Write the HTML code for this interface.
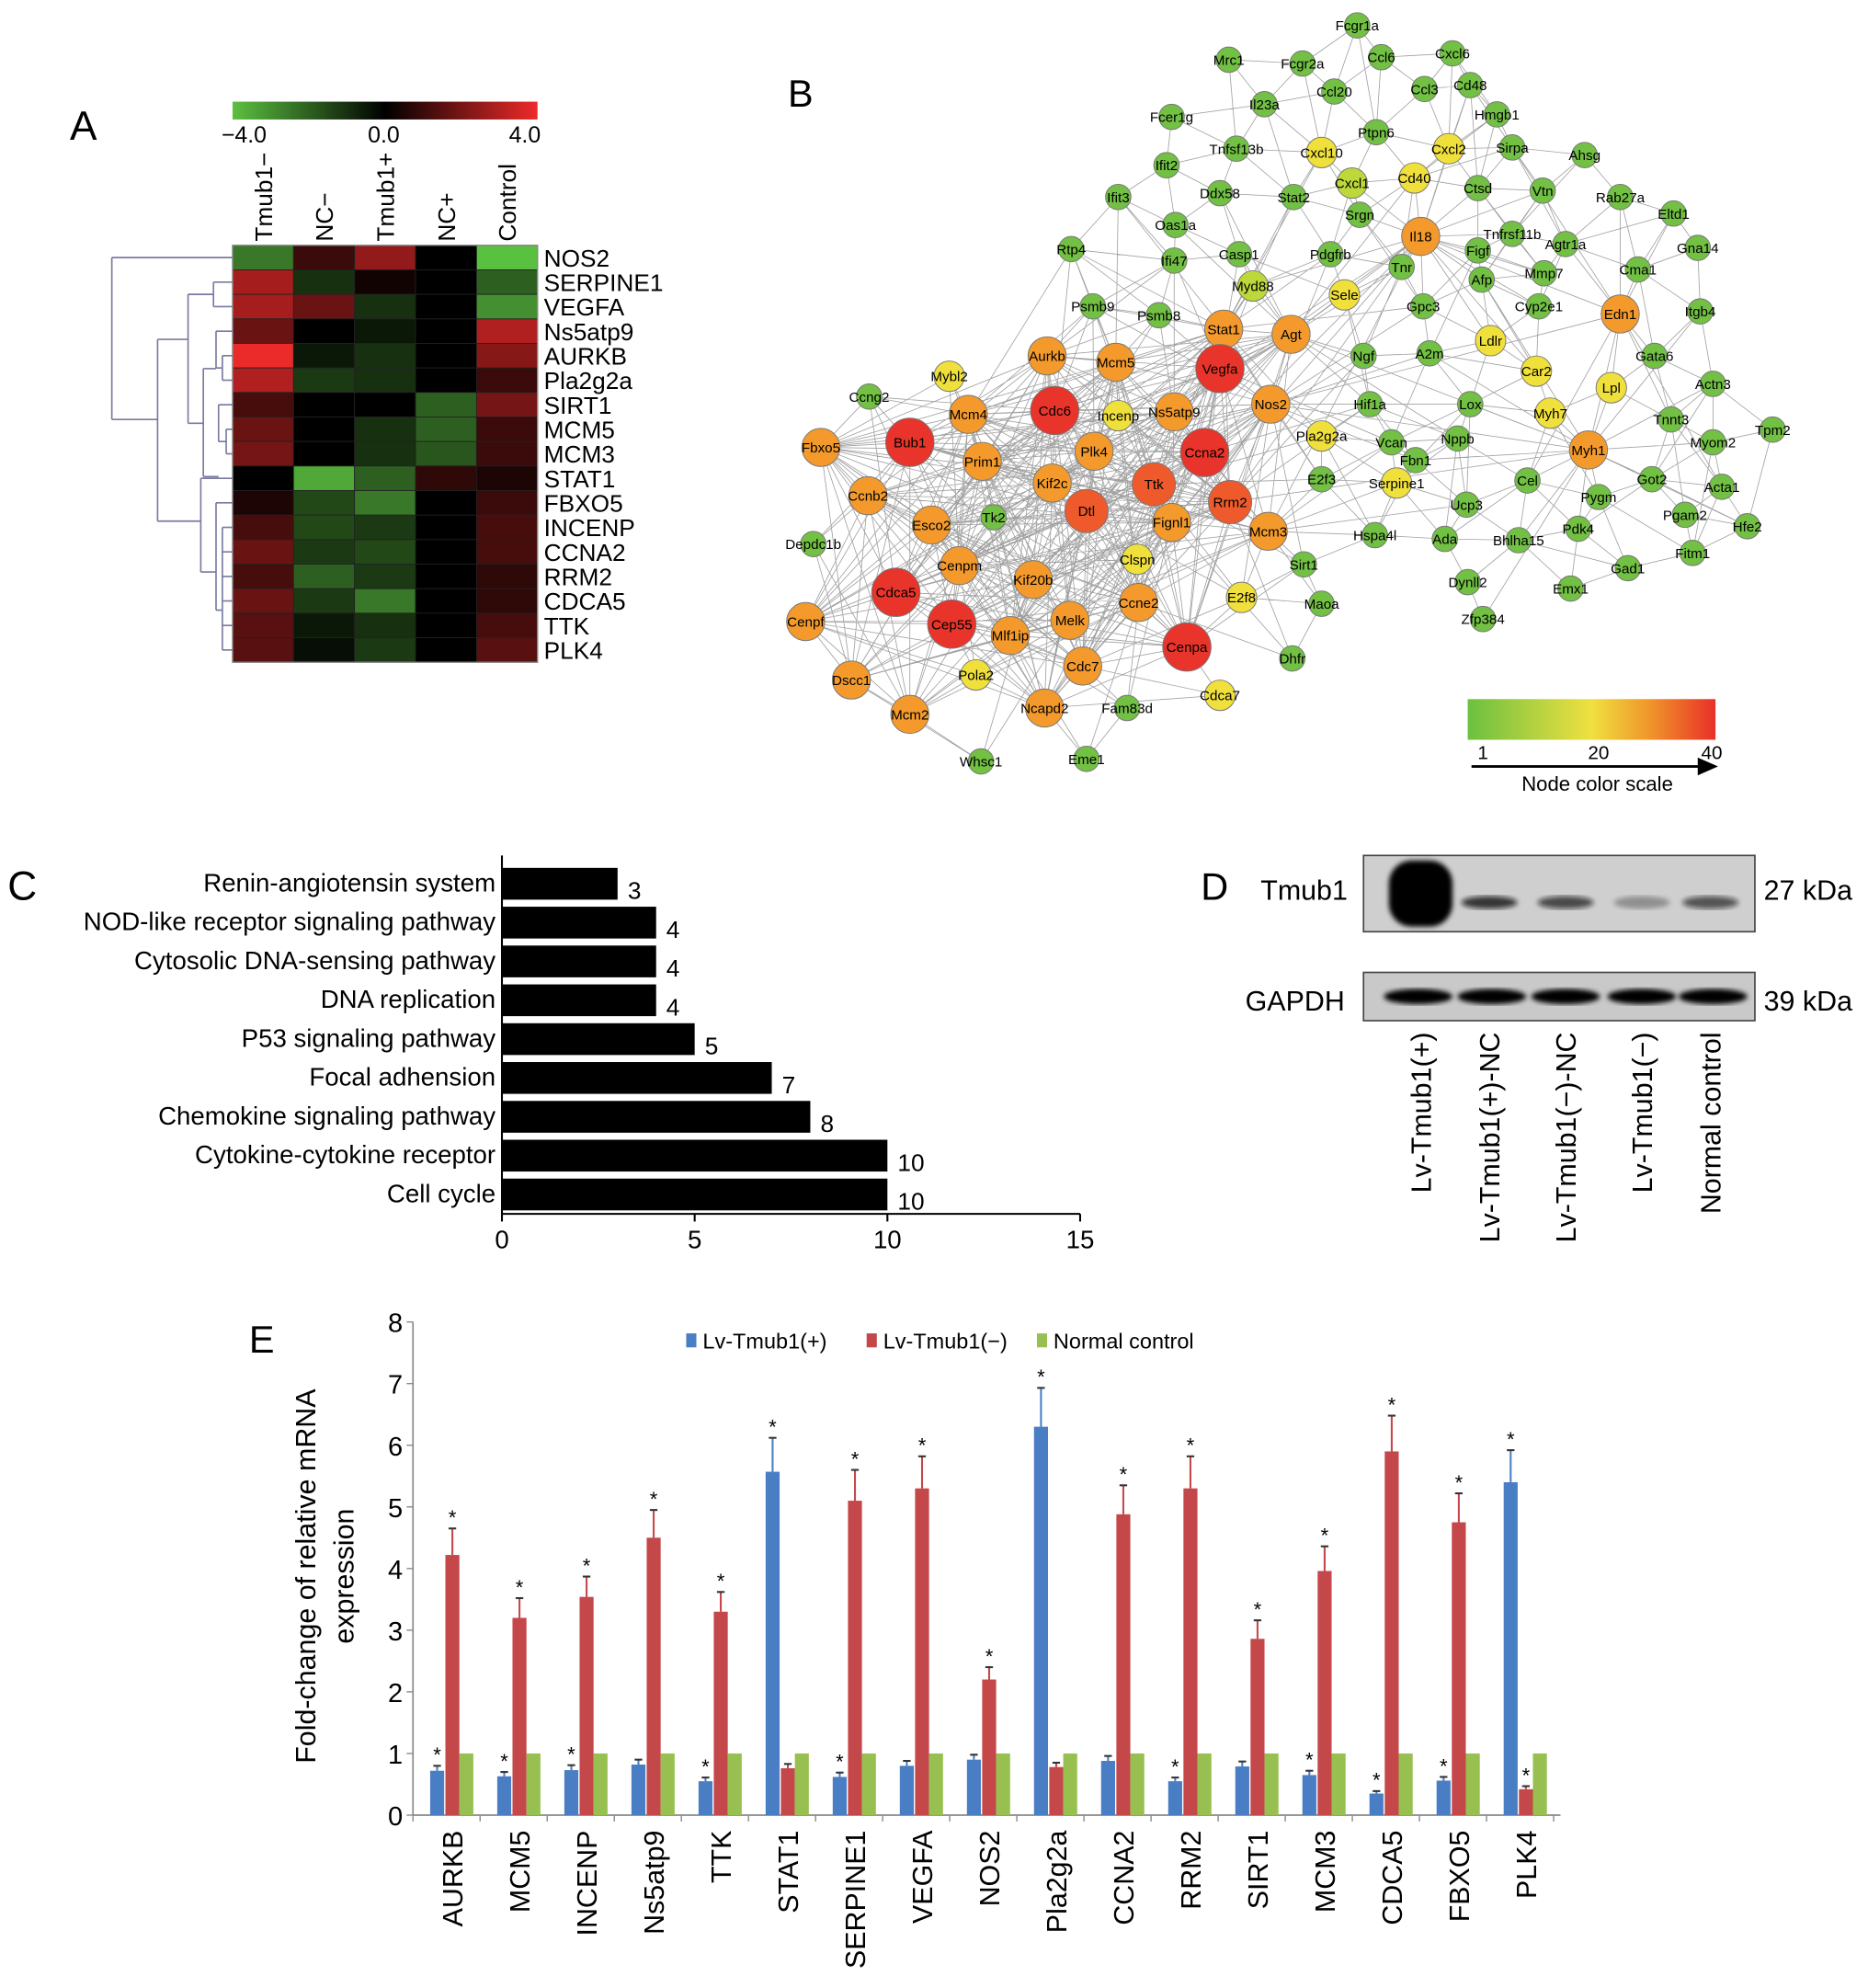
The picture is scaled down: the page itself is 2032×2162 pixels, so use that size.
<!DOCTYPE html>
<html><head><meta charset="utf-8"><style>
html,body{margin:0;padding:0;background:#fff;}
svg{display:block;font-family:"Liberation Sans",sans-serif;}
.n{font-family:"Liberation Sans Narrow","Liberation Sans",sans-serif;}
</style></head><body>
<svg id="fig" width="2032" height="2162" viewBox="0 0 1470 1564" preserveAspectRatio="none" xmlns="http://www.w3.org/2000/svg">
<defs>
<linearGradient id="hmscale" x1="0" x2="1" y1="0" y2="0"><stop offset="0" stop-color="#5cc040"/><stop offset="0.5" stop-color="#000"/><stop offset="1" stop-color="#ee2a2a"/></linearGradient>
<linearGradient id="nodescale" x1="0" x2="1" y1="0" y2="0"><stop offset="0" stop-color="#6cc040"/><stop offset="0.5" stop-color="#f0e040"/><stop offset="0.75" stop-color="#f0902a"/><stop offset="1" stop-color="#e83028"/></linearGradient>
<filter id="blur"><feGaussianBlur stdDeviation="2"/></filter>
</defs>
<g id="pA"></g>
<g id="pB"></g>
<g id="pC"></g>
<g id="pD"></g>
<g id="pE"></g>
</svg>
<script>
// ---------- Panel A data ----------
const hmGenes = ["NOS2","SERPINE1","VEGFA","Ns5atp9","AURKB","Pla2g2a","SIRT1","MCM5","MCM3","STAT1","FBXO5","INCENP","CCNA2","RRM2","CDCA5","TTK","PLK4"];
const hmCols = ["Tmub1−","NC−","Tmub1+","NC+","Control"];
const hmVals = [
[-2.5,1,2.5,0,-4],[2.8,-1,0.3,0,-2],[2.8,1.8,-1,0,-3],[1.8,0,-0.5,0,3],[4,-0.5,-1,0,2.3],
[3,-1.2,-1,0,1],[1.2,0,0,-2,2],[1.8,0,-1,-2,1],[2,0,-1,-1.8,1],[0,-3.5,-2,0.8,0.5],
[0.5,-1.5,-2.5,0,1],[1.2,-1.5,-1.2,0,1.2],[1.8,-1.2,-1.5,0,1.2],[1.2,-2,-1.2,0,0.8],
[1.8,-1.2,-2.5,0,0.8],[1.5,-0.5,-1,0,1.2],[1.5,-0.3,-1.2,0,1.5]];
// ---------- Panel C data ----------
const cCats = ["Renin-angiotensin system","NOD-like receptor signaling pathway","Cytosolic DNA-sensing pathway","DNA replication","P53 signaling pathway","Focal adhension","Chemokine signaling pathway","Cytokine-cytokine receptor","Cell cycle"];
const cVals = [3,4,4,4,5,7,8,10,10];
const cTicks = [0,5,10,15];
// ---------- Panel E data ----------
const eCats = ["AURKB","MCM5","INCENP","Ns5atp9","TTK","STAT1","SERPINE1","VEGFA","NOS2","Pla2g2a","CCNA2","RRM2","SIRT1","MCM3","CDCA5","FBXO5","PLK4"];
const eBlue = [0.72,0.63,0.73,0.82,0.55,5.57,0.62,0.8,0.9,6.3,0.88,0.55,0.79,0.65,0.35,0.56,5.4];
const eBlueErr = [0.08,0.07,0.08,0.08,0.06,0.55,0.07,0.08,0.08,0.63,0.08,0.06,0.08,0.07,0.04,0.06,0.52];
const eRed = [4.22,3.2,3.54,4.5,3.3,0.76,5.1,5.3,2.2,0.78,4.88,5.3,2.86,3.96,5.9,4.75,0.42];
const eRedErr = [0.43,0.32,0.33,0.45,0.32,0.07,0.5,0.52,0.2,0.07,0.47,0.52,0.3,0.4,0.58,0.47,0.05];
const eGreen = [1,1,1,1,1,1,1,1,1,1,1,1,1,1,1,1,1];
const eBlueSig = [1,1,1,0,1,1,1,0,0,1,0,1,0,1,1,1,1];
const eRedSig = [1,1,1,1,1,0,1,1,1,0,1,1,1,1,1,1,1];
const eTicks = [0,1,2,3,4,5,6,7,8];
const eLegend = ["Lv-Tmub1(+)","Lv-Tmub1(−)","Normal control"];
// ---------- Panel B nodes ----------
const nodes = [
["Fcgr1a",1068,20,"g"],["Mrc1",967,47,"g"],["Fcgr2a",1025,50,"g"],["Ccl6",1087,45,"g"],["Cxcl6",1143,42,"g"],
["Il23a",995,82,"g"],["Ccl20",1050,72,"g"],["Ccl3",1121,70,"g"],["Cd48",1157,67,"g"],["Hmgb1",1178,90,"g"],
["Fcer1g",922,92,"g"],["Tnfsf13b",973,117,"g"],["Ptpn6",1083,104,"g"],["Cxcl10",1040,120,"y"],["Cxcl2",1140,117,"y"],
["Sirpa",1190,116,"g"],["Ahsg",1247,122,"g"],["Ifit2",918,130,"g"],["Ddx58",960,152,"g"],["Stat2",1018,155,"g"],
["Cxcl1",1064,144,"yg"],["Cd40",1113,140,"y"],["Ctsd",1163,148,"g"],["Vtn",1214,150,"g"],["Rab27a",1275,155,"g"],
["Ifit3",880,155,"g"],["Srgn",1070,169,"g"],["Oas1a",925,177,"g"],["Il18",1118,186,"o"],["Tnfrsf11b",1190,184,"g"],
["Eltd1",1317,168,"g"],["Rtp4",843,196,"g"],["Ifi47",924,205,"g"],["Casp1",975,200,"g"],["Pdgfrb",1047,200,"g"],
["Figf",1163,197,"g"],["Agtr1a",1232,192,"g"],["Gna14",1336,195,"g"],["Myd88",986,225,"yg"],["Tnr",1103,210,"g"],
["Afp",1166,220,"g"],["Mmp7",1215,215,"g"],["Cma1",1289,212,"g"],["Psmb9",860,241,"g"],["Psmb8",912,248,"g"],
["Sele",1058,232,"y"],["Gpc3",1120,241,"g"],["Cyp2e1",1211,241,"g"],["Edn1",1275,247,"o"],["Itgb4",1338,245,"g"],
["Stat1",963,259,"o"],["Agt",1016,263,"o"],["Vegfa",960,290,"R"],["Ldlr",1173,268,"y"],["Gata6",1302,280,"g"],
["Aurkb",824,280,"o"],["Mcm5",878,285,"o"],["Ngf",1073,280,"g"],["A2m",1125,278,"g"],["Car2",1209,292,"y"],
["Mybl2",747,296,"y"],["Ccng2",684,312,"g"],["Cdc6",830,323,"R"],["Incenp",880,327,"y"],["Ns5atp9",924,324,"o"],
["Mcm4",762,326,"o"],["Lpl",1268,305,"y"],["Actn3",1348,302,"g"],["Nos2",1000,318,"o"],["Hif1a",1078,318,"g"],
["Lox",1157,318,"g"],["Myh7",1220,325,"y"],["Tnnt3",1315,330,"g"],["Myom2",1348,348,"g"],["Tpm2",1395,338,"g"],
["Fbxo5",646,352,"o"],["Bub1",716,348,"R"],["Plk4",861,355,"o"],["Ccna2",948,356,"R"],["Pla2g2a",1040,343,"y"],
["Vcan",1095,348,"g"],["Nppb",1147,345,"g"],["Fbn1",1114,362,"g"],["Myh1",1250,354,"o"],["Prim1",773,363,"o"],
["Kif2c",828,380,"o"],["Ttk",908,381,"r"],["Rrm2",968,395,"r"],["E2f3",1040,377,"g"],["Serpine1",1099,380,"y"],
["Cel",1202,378,"g"],["Pygm",1258,391,"g"],["Got2",1300,377,"g"],["Acta1",1355,383,"g"],["Ccnb2",683,390,"o"],
["Dtl",855,402,"r"],["Fignl1",922,411,"o"],["Mcm3",998,418,"o"],["Ucp3",1154,397,"g"],["Pgam2",1326,405,"g"],
["Hfe2",1375,414,"g"],["Esco2",733,413,"o"],["Tk2",782,407,"g"],["Pdk4",1242,416,"g"],["Depdc1b",640,428,"g"],
["Clspn",895,440,"y"],["Sirt1",1026,444,"g"],["Hspa4l",1082,421,"g"],["Ada",1137,424,"g"],["Bhlha15",1195,425,"g"],
["Fitm1",1332,435,"g"],["Cenpm",755,445,"o"],["Kif20b",813,456,"o"],["Cdca5",705,466,"R"],["Ccne2",896,474,"o"],
["E2f8",977,470,"y"],["Gad1",1281,447,"g"],["Dynll2",1155,458,"g"],["Emx1",1236,463,"g"],["Maoa",1040,475,"g"],
["Cenpf",634,489,"o"],["Melk",842,488,"o"],["Cep55",749,491,"R"],["Mlf1ip",795,500,"o"],["Zfp384",1167,487,"g"],
["Cenpa",934,509,"R"],["Dhfr",1017,518,"g"],["Dscc1",670,535,"o"],["Cdc7",852,524,"o"],["Pola2",768,531,"y"],
["Cdca7",960,547,"y"],["Ncapd2",822,557,"o"],["Fam83d",887,557,"g"],["Mcm2",716,562,"o"],["Whsc1",772,599,"g"],
["Eme1",855,597,"g"]];

const NS="http://www.w3.org/2000/svg";
function mk(parent,tag,attrs,text){const e=document.createElementNS(NS,tag);for(const k in attrs)e.setAttribute(k,attrs[k]);if(text!==undefined)e.textContent=text;parent.appendChild(e);return e;}

// ================= Panel A =================
(function(){
const g=document.getElementById('pA');
let t=mk(g,'text',{x:55,y:110,'font-size':32},'A');


let cb=mk(g,'rect',{x:183,y:80,width:240,height:14,fill:'url(#hmscale)'});


const cbl=[["−4.0",192],["0.0",302],["4.0",413]];
cbl.forEach(c=>{const e=mk(g,'text',{x:c[1],y:112,'font-size':18,'text-anchor':'middle'},c[0]);

});
const x0=183,y0=193,cw=48,rh=(521-193)/hmGenes.length;
function col(v){const f=Math.min(1,Math.abs(v)/4);
 if(v>=0) return `rgb(${Math.round(235*f)},${Math.round(42*f)},${Math.round(42*f)})`;
 return `rgb(${Math.round(90*f)},${Math.round(192*f)},${Math.round(64*f)})`;}
hmCols.forEach((c,j)=>{const cx=x0+cw*j+cw/2+7;
 const e=mk(g,'text',{x:cx,y:190,'font-size':19,transform:`rotate(-90 ${cx} 190)`},c);
 
 });
hmGenes.forEach((gn,i)=>{
 hmVals[i].forEach((v,j)=>{const r=mk(g,'rect',{x:x0+cw*j,y:y0+rh*i,width:cw,height:rh,fill:col(v),stroke:'#222','stroke-width':0.6});
  
  });
 const e=mk(g,'text',{x:428,y:y0+rh*i+rh/2+7,'font-size':19},gn);
 
 
});
mk(g,'rect',{x:x0,y:y0,width:cw*5,height:rh*17,fill:'none',stroke:'#888','stroke-width':1});
const yc=i=>y0+rh*i+rh/2;
const d=g.appendChild(document.createElementNS(NS,'g'));


const segs=[
[88,yc(0),183,yc(0)],[88,yc(0),88,330],[88,330,124,330],
[124,267,124,410],[124,267,148,267],[124,410,158,410],
[148,yc(1.5),148,333],[148,yc(1.5),168,yc(1.5)],[168,yc(1),168,yc(2)],[168,yc(1),183,yc(1)],[168,yc(2),183,yc(2)],
[148,333,160,333],[160,290,160,375],[160,290,170,290],[170,yc(3),170,yc(4.5)],[170,yc(3),183,yc(3)],[170,yc(4.5),175,yc(4.5)],[175,yc(4),175,yc(5)],[175,yc(4),183,yc(4)],[175,yc(5),183,yc(5)],
[160,375,172,375],[172,yc(6),172,yc(7.5)],[172,yc(6),183,yc(6)],[172,yc(7.5),178,yc(7.5)],[178,yc(7),178,yc(8)],[178,yc(7),183,yc(7)],[178,yc(8),183,yc(8)],
[158,yc(9),158,450],[158,yc(9),183,yc(9)],[158,450,170,450],[170,yc(10),170,480],[170,yc(10),183,yc(10)],[170,480,175,480],
[175,yc(11),175,yc(16)],[175,yc(11),183,yc(11)],[175,yc(12),183,yc(12)],[175,yc(13),183,yc(13)],[175,yc(14),183,yc(14)],[175,yc(15),183,yc(15)],[175,yc(16),183,yc(16)]];
segs.forEach(s=>mk(d,'line',{x1:s[0],y1:s[1],x2:s[2],y2:s[3],stroke:'#7a7aa0','stroke-width':1.2}));
})();

// ================= Panel B =================
(function(){
const g=document.getElementById('pB');
let t=mk(g,'text',{x:620,y:84,'font-size':30},'B');


const colors={g:'#72c044',yg:'#bcd83a',y:'#f0e03c',o:'#f49a2c',r:'#ee5a2c',R:'#e8342a'};
const rad={g:10,yg:12,y:12,o:15,r:17,R:19};
const eg=g.appendChild(document.createElementNS(NS,'g'));


let path='';
const hub=(k)=>'oRr'.includes(nodes[k][3]);
for(let i=0;i<nodes.length;i++)for(let j=i+1;j<nodes.length;j++){
 const a=nodes[i],b=nodes[j];const dx=a[1]-b[1],dy=a[2]-b[2];const dd=Math.sqrt(dx*dx+dy*dy);
 const both=hub(i)&&hub(j);
 let lim=both?300:(hub(i)||hub(j)?160:90);
 const keep=both?((i*7+j*13)%3!==0):((i*7+j*13)%3===0);
 if(dd<lim && (keep || dd<60)) path+=`M${a[1]} ${a[2]}L${b[1]} ${b[2]}`;
}
mk(eg,'path',{d:path,stroke:'#8a8a8a','stroke-width':0.6,fill:'none','stroke-opacity':0.8});
nodes.forEach(n=>{
 const ng=g.appendChild(document.createElementNS(NS,'g'));
 
 
 mk(ng,'circle',{cx:n[1],cy:n[2],r:rad[n[3]],fill:colors[n[3]],stroke:'#777','stroke-width':0.7});
 mk(ng,'text',{x:n[1],y:n[2]+4,'font-size':11,'text-anchor':'middle',class:'n'},n[0]);
});
let s=mk(g,'rect',{x:1155,y:550,width:195,height:32,fill:'url(#nodescale)'});


[["1",1167],["20",1258],["40",1347]].forEach(c=>{const e=mk(g,'text',{x:c[1],y:597,'font-size':15,'text-anchor':'middle'},c[0]);
 
 });
mk(g,'line',{x1:1158,y1:603,x2:1342,y2:603,stroke:'#000','stroke-width':2});
mk(g,'path',{d:'M1352 603 L1336 596 L1336 610 Z',fill:'#000'});
let l=mk(g,'text',{x:1257,y:622,'font-size':16,'text-anchor':'middle'},'Node color scale');


})();

// ================= Panel C =================
(function(){
const g=document.getElementById('pC');
let t=mk(g,'text',{x:6,y:708,'font-size':32},'C');


const ax0=395,ax1=850,xMax=15,yTop=680,yBot=955;
const X=v=>ax0+(ax1-ax0)*v/xMax;
const step=(yBot-yTop)/cCats.length;
mk(g,'line',{x1:ax0,y1:673,x2:ax0,y2:yBot,stroke:'#000','stroke-width':1.5});
mk(g,'line',{x1:ax0,y1:yBot,x2:ax1,y2:yBot,stroke:'#000','stroke-width':1.5});
cTicks.forEach(v=>{mk(g,'line',{x1:X(v),y1:yBot,x2:X(v),y2:yBot+6,stroke:'#000','stroke-width':1.5});
 const e=mk(g,'text',{x:X(v),y:yBot+27,'font-size':20,'text-anchor':'middle',class:'n'},v);
 
 });
cCats.forEach((c,i)=>{const yc=yTop+step*i+step/2;
 const r=mk(g,'rect',{x:ax0,y:yc-12.5,width:X(cVals[i])-ax0,height:25,fill:'#000'});
 
 
 const l=mk(g,'text',{x:ax0-5,y:yc+6,'font-size':20,'text-anchor':'end',class:'n'},c);
 
 
 const v=mk(g,'text',{x:X(cVals[i])+8,y:yc+12,'font-size':19,class:'n'},cVals[i]);
 
 
});
})();

// ================= Panel D =================
(function(){
const g=document.getElementById('pD');
let t=mk(g,'text',{x:945,y:708,'font-size':30},'D');


const lanes=[1118,1172,1232,1292,1346];
const labels=["Lv-Tmub1(+)","Lv-Tmub1(+)-NC","Lv-Tmub1(−)-NC","Lv-Tmub1(−)","Normal control"];
let b1=mk(g,'rect',{x:1073,y:673,width:308,height:60,fill:'#cfcfcf',stroke:'#444','stroke-width':1.2});


let b2=mk(g,'rect',{x:1073,y:765,width:308,height:38,fill:'#c9c9c9',stroke:'#444','stroke-width':1.2});


mk(g,'rect',{x:1093,y:677,width:50,height:52,rx:18,fill:'#000',filter:'url(#blur)'});
[[1172,0.8],[1232,0.7],[1292,0.3],[1346,0.65]].forEach(b=>mk(g,'ellipse',{cx:b[0],cy:710,rx:22,ry:5,fill:'#111','fill-opacity':b[1],filter:'url(#blur)'}));
[1116,1174,1232,1292,1348].forEach(x=>mk(g,'ellipse',{cx:x,cy:784,rx:27,ry:6,fill:'#000',filter:'url(#blur)'}));
[["Tmub1",992,708],["GAPDH",980,795]].forEach(a=>{const e=mk(g,'text',{x:a[1],y:a[2],'font-size':22},a[0]);
 
 });
[["27 kDa",1388,708],["39 kDa",1388,795]].forEach(a=>{const e=mk(g,'text',{x:a[1],y:a[2],'font-size':22},a[0]);
 
 });
lanes.forEach((x,i)=>{const xx=x+8;const e=mk(g,'text',{x:xx,y:812,'font-size':22,'text-anchor':'end',transform:`rotate(-90 ${xx} 812)`},labels[i]);
 
 });
})();

// ================= Panel E =================
(function(){
const g=document.getElementById('pE');
let t=mk(g,'text',{x:196,y:1064,'font-size':30},'E');


const ax=325,y0=1428,y8=1040,yMax=8,xEnd=1228;
const Y=v=>y0-(y0-y8)*v/yMax;
const X=i=>356+i*52.8;
mk(g,'line',{x1:ax,y1:y8,x2:ax,y2:y0,stroke:'#888','stroke-width':1.2});
mk(g,'line',{x1:ax,y1:y0,x2:xEnd,y2:y0,stroke:'#888','stroke-width':1.2});
eTicks.forEach(v=>{mk(g,'line',{x1:ax-5,y1:Y(v),x2:ax,y2:Y(v),stroke:'#888'});
 const e=mk(g,'text',{x:ax-8,y:Y(v)+8,'font-size':21,'text-anchor':'end',class:'n'},v);
 
 });
for(let i=0;i<=eCats.length;i++)mk(g,'line',{x1:ax+i*52.8,y1:y0,x2:ax+i*52.8,y2:y0+5,stroke:'#888'});
const series=[[eBlue,eBlueErr,eBlueSig,-12,'#4a7ec4'],[eRed,eRedErr,eRedSig,0,'#c4474a'],[eGreen,null,null,11,'#98c050']];
eCats.forEach((c,i)=>{
 series.forEach((s,k)=>{const v=s[0][i];const cx=X(i)+s[3];
  const r=mk(g,'rect',{x:cx-5.5,y:Y(v),width:11,height:y0-Y(v),fill:s[4]});
  
  
  if(s[1]){const top=Y(v+s[1][i]);
   mk(g,'line',{x1:cx,y1:Y(v),x2:cx,y2:top,stroke:s[4],'stroke-width':1.5});
   mk(g,'line',{x1:cx-3,y1:top,x2:cx+3,y2:top,stroke:'#333','stroke-width':1.5});
   if(s[2][i]){const st=mk(g,'text',{x:cx,y:top-3,'font-size':16,'text-anchor':'middle'},'*');
    
    }
  }
 });
 const lx=X(i)+8;
 const l=mk(g,'text',{x:lx,y:1440,'font-size':22,'text-anchor':'end',transform:`rotate(-90 ${lx} 1440)`},c);
 
 
});
const lg=g.appendChild(document.createElementNS(NS,'g'));


[[540,'#4a7ec4'],[682,'#c4474a'],[816,'#98c050']].forEach((p,k)=>{
 const e=lg.appendChild(document.createElementNS(NS,'g'));
 
 
 mk(e,'rect',{x:p[0],y:1049,width:8,height:11,fill:p[1]});
 mk(e,'text',{x:p[0]+13,y:1061,'font-size':17,class:'n'},eLegend[k]);
});
const yt=mk(g,'text',{x:248,y:1240,'font-size':22,'text-anchor':'middle',transform:'rotate(-90 248 1240)'},'Fold-change of relative mRNA');


const yt2=mk(g,'text',{x:278,y:1240,'font-size':22,'text-anchor':'middle',transform:'rotate(-90 278 1240)'},'expression');


})();
</script>
</body></html>
